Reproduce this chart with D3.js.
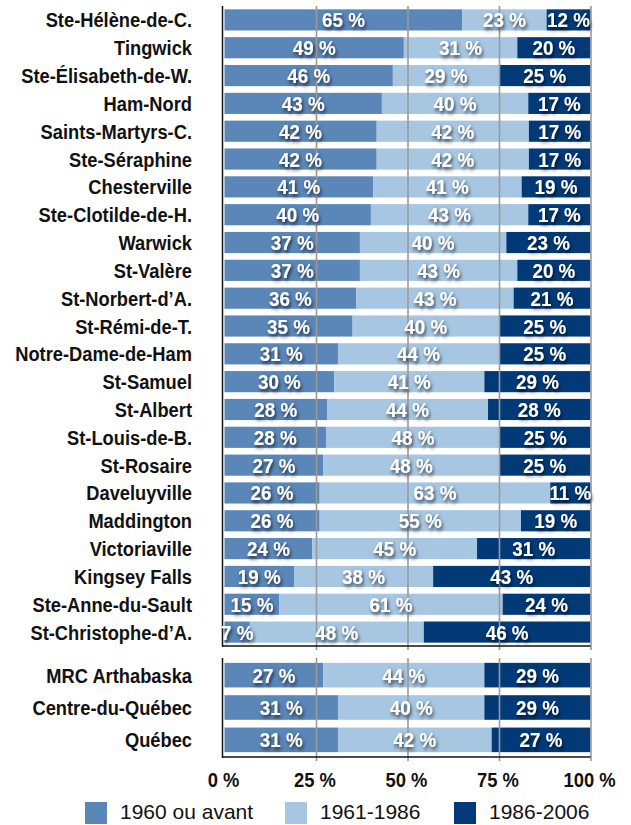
<!DOCTYPE html>
<html>
<head>
<meta charset="utf-8">
<script src="https://cdn.jsdelivr.net/npm/d3@7"></script>
<style>
  body { margin: 0; background: #fff; }
  .cond { font-family: "Liberation Sans", Arial, sans-serif; font-weight: bold; }
</style>
</head>
<body>
<svg></svg>
<script>
// municipalities (top panel)
const towns = ["Ste-Hélène-de-C.", "Tingwick", "Ste-Élisabeth-de-W.", "Ham-Nord", "Saints-Martyrs-C.",
  "Ste-Séraphine", "Chesterville", "Ste-Clotilde-de-H.", "Warwick", "St-Valère", "St-Norbert-d’A.",
  "St-Rémi-de-T.", "Notre-Dame-de-Ham", "St-Samuel", "St-Albert", "St-Louis-de-B.", "St-Rosaire",
  "Daveluyville", "Maddington", "Victoriaville", "Kingsey Falls", "Ste-Anne-du-Sault", "St-Christophe-d’A."]
const townBefore1960 = [65, 49, 46, 43, 42, 42, 41, 40, 37, 37, 36, 35, 31, 30, 28, 28, 27, 26, 26, 24, 19, 15, 7]
const town1961_1986 = [23, 31, 29, 40, 42, 42, 41, 43, 40, 43, 43, 40, 44, 41, 44, 48, 48, 63, 55, 45, 38, 61, 48]
const town1986_2006 = [12, 20, 25, 17, 17, 17, 19, 17, 23, 20, 21, 25, 25, 29, 28, 25, 25, 11, 19, 31, 43, 24, 46]

// regions (bottom panel)
const regions = ["MRC Arthabaska", "Centre-du-Québec", "Québec"]
const regBefore1960 = [27, 31, 31]
const reg1961_1986 = [44, 40, 42]
const reg1986_2006 = [29, 29, 27]

const seriesNames = ["1960 ou avant", "1961-1986", "1986-2006"]
const ticks = [0, 0.25, 0.5, 0.75, 1]

const colors = ["#5a86b8", "#a6c6e1", "#023a78"]
const keys = ["a", "b", "c"]

const width = 631, height = 825
const svg = d3.select("svg").attr("width", width).attr("height", height)

const defs = svg.append("defs")
defs.append("filter").attr("id", "shadow")
  .attr("x", "-30%").attr("y", "-40%").attr("width", "160%").attr("height", "180%")
  .append("feDropShadow")
    .attr("dx", 1.5).attr("dy", 2.5).attr("stdDeviation", 2)
    .attr("flood-color", "#000").attr("flood-opacity", 0.7)

const xScale = d3.scaleLinear().domain([0, 1]).range([224.5, 590.5])
const axisX = 222.5
const labelX = 192
// condensed look: squeeze the bold sans horizontally
const squeezeCat = 0.915
const squeezeNum = 0.92

const stack = d3.stack().keys(keys).offset(d3.stackOffsetExpand)
const color = d3.scaleOrdinal().domain(keys).range(colors)

const makeRows = (names, a, b, c) => names.map((n, i) => ({ name: n, a: a[i], b: b[i], c: c[i] }))

const panel = (rows, y0, y1, outer) => {
  const yScale = d3.scaleBand()
    .domain(rows.map(d => d.name))
    .range([y0, y1])
    .paddingInner(0.24)
    .paddingOuter(outer)

  const g = svg.append("g")
  const layers = stack(rows)

  // bars
  g.selectAll("g.layer")
    .data(layers)
    .enter().append("g")
      .attr("class", "layer")
      .attr("fill", d => color(d.key))
    .selectAll("rect")
    .data(d => d)
    .enter().append("rect")
      .attr("x", d => xScale(d[0]))
      .attr("y", d => yScale(d.data.name))
      .attr("width", d => xScale(d[1]) - xScale(d[0]))
      .attr("height", yScale.bandwidth())

  // grid lines over the bars
  const grid = g.append("g")
    .attr("transform", `translate(0,${y1 + 4})`)
    .call(d3.axisBottom(xScale).tickValues(ticks.slice(1)).tickSize(-(y1 - y0 + 4)).tickFormat(""))
  grid.select(".domain").remove()
  grid.selectAll("line").attr("stroke", "#9a9a9a").attr("stroke-width", 1.6)

  // axis lines
  g.append("line")
    .attr("x1", axisX).attr("x2", axisX).attr("y1", y0).attr("y2", y1 + 1)
    .attr("stroke", "#111").attr("stroke-width", 1.5)
  g.append("line")
    .attr("x1", axisX).attr("x2", xScale(1)).attr("y1", y1).attr("y2", y1)
    .attr("stroke", "#111").attr("stroke-width", 1.5)

  // value labels
  g.selectAll("g.vlab")
    .data(layers)
    .enter().append("g")
      .attr("class", "vlab")
    .selectAll("text")
    .data(d => d.map(s => ({ s: s, v: s.data[d.key] })))
    .enter().append("text")
      .attr("class", "cond")
      .attr("transform", d => `translate(${(xScale(d.s[0]) + xScale(d.s[1])) / 2},${yScale(d.s.data.name) + yScale.bandwidth() / 2 + 7.5}) scale(${squeezeNum},1)`)
      .attr("text-anchor", "middle")
      .attr("font-size", 20.5)
      .attr("fill", "#fff")
      .attr("filter", "url(#shadow)")
      .text(d => d.v + " %")

  // category labels
  g.selectAll("text.cat")
    .data(rows)
    .enter().append("text")
      .attr("class", "cond cat")
      .attr("transform", d => `translate(${labelX},${yScale(d.name) + yScale.bandwidth() / 2 + 7.5}) scale(${squeezeCat},1)`)
      .attr("text-anchor", "end")
      .attr("font-size", 20)
      .attr("fill", "#111")
      .text(d => d.name)
}

panel(makeRows(towns, townBefore1960, town1961_1986, town1986_2006), 6, 646, 0.12)
panel(makeRows(regions, regBefore1960, reg1961_1986, reg1986_2006), 658, 757, 0.15)

// x tick labels
const xAxisG = svg.append("g")
  .attr("transform", "translate(0,772)")
  .call(d3.axisBottom(xScale).tickValues(ticks).tickSize(0).tickPadding(0).tickFormat(d => Math.round(d * 100) + " %"))
xAxisG.select(".domain").remove()
xAxisG.selectAll("text")
  .attr("class", "cond")
  .attr("font-size", 20)
  .attr("fill", "#111")
  .attr("dy", 0)
  .attr("y", 0)
  .attr("transform", `translate(-1.5,15) scale(${squeezeNum},1)`)

// legend
const legendX = [85, 285, 454]
const legend = svg.append("g")
  .selectAll("g")
  .data(seriesNames)
  .enter().append("g")
    .attr("transform", (d, i) => `translate(${legendX[i]},802)`)
legend.append("rect")
  .attr("width", 22).attr("height", 22)
  .attr("fill", (d, i) => colors[i])
legend.append("text")
  .attr("x", 35).attr("y", 17)
  .attr("font-family", "'Liberation Sans', Arial, sans-serif")
  .attr("font-size", 21)
  .attr("fill", "#111")
  .text(d => d)
</script>
</body>
</html>
